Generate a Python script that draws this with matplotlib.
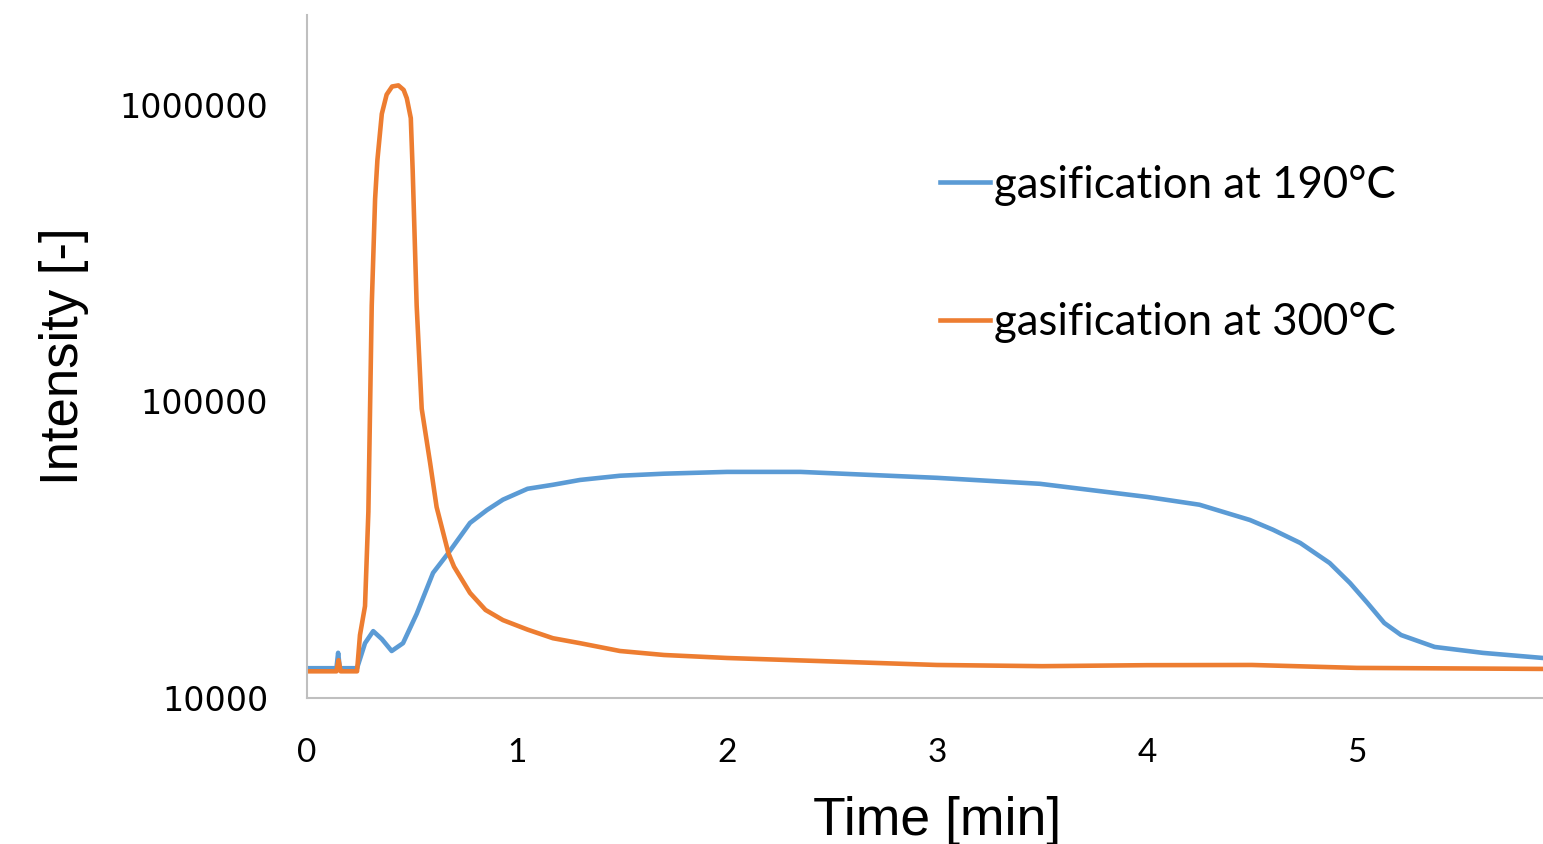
import matplotlib.pyplot as plt
from matplotlib.ticker import FixedLocator, FixedFormatter

# Данные
t_190 = [0, 0.14, 0.148, 0.156, 0.238, 0.276, 0.315, 0.356, 0.403, 0.457, 0.522,
         0.6, 0.673, 0.776, 0.857, 0.933, 1.05, 1.171, 1.3, 1.49, 1.7, 2.0, 2.35, 3.0,
         3.49, 4.0, 4.25, 4.49, 4.6, 4.73, 4.87, 4.967, 5.05, 5.13, 5.21, 5.37, 5.6, 5.886]
i_190 = [12600, 12600, 14200, 12600, 12600, 15300, 16800, 15800, 14400, 15300, 19200,
         26400, 30800, 38900, 43000, 46600, 50700, 52300, 54300, 56100, 57000, 57800, 57800, 55200,
         52700, 47600, 44800, 39800, 36900, 33300, 28500, 24400, 20900, 17900, 16300, 14860, 14190, 13640]

t_300 = [0, 0.14, 0.15, 0.16, 0.238, 0.252, 0.276, 0.292, 0.308, 0.324, 0.335,
         0.356, 0.379, 0.405, 0.435, 0.46, 0.475, 0.494, 0.503, 0.522, 0.546,
         0.586, 0.617, 0.673, 0.7, 0.776, 0.85, 0.933, 1.05, 1.171, 1.3, 1.49, 1.7, 2.0,
         3.0, 3.5, 4.0, 4.5, 5.0, 5.886]
i_300 = [12300, 12300, 13400, 12300, 12300, 16300, 20400, 42400, 210000, 480000, 650000,
         930000, 1080000, 1150000, 1160000, 1120000, 1050000, 900000, 600000, 210000, 94400,
         62000, 44000, 30800, 27700, 22600, 19800, 18300, 17000, 15900, 15300, 14400, 13960, 13640,
         12920, 12800, 12900, 12920, 12630, 12530]

y_ticks = [10000, 100000, 1000000]
x_ticks = [0, 1, 2, 3, 4, 5]

fig = plt.figure(figsize=(15.43, 8.44), dpi=100)
ax = fig.add_axes([0.199, 0.173, 0.801, 0.809])

ax.plot(t_190, i_190, color='#5B9BD5', lw=3.3, label='gasification at 190°C')
ax.plot(t_300, i_300, color='#ED7D31', lw=3.3, label='gasification at 300°C')

ax.set_yscale('log')
ax.set_ylim(10000, 2000000)
ax.set_xlim(0, 5.886)
ax.yaxis.set_major_locator(FixedLocator(y_ticks))
ax.yaxis.set_major_formatter(FixedFormatter([str(v) for v in y_ticks]))
ax.yaxis.set_minor_locator(FixedLocator([]))
ax.set_xticks(x_ticks)
ax.set_xticklabels([str(v) for v in x_ticks], fontfamily='Lato', fontsize=24)
for lab in ax.get_yticklabels():
    lab.set_fontfamily('DejaVu Sans')
    lab.set_fontsize(24)
ax.tick_params(axis='both', length=0)
ax.tick_params(axis='y', pad=28)
ax.tick_params(axis='x', pad=29)

for s in ['top', 'right']:
    ax.spines[s].set_visible(False)
for s in ['left', 'bottom']:
    ax.spines[s].set_color('#BFBFBF')
    ax.spines[s].set_linewidth(1.5)

ax.set_xlabel('Time [min]', fontfamily='Liberation Sans', fontsize=38.5, labelpad=20)
ax.xaxis.label.set_x(0.51)
ax.set_ylabel('Intensity [-]', fontfamily='Liberation Sans', fontsize=38, labelpad=22)

ax.legend(loc='upper left', bbox_to_anchor=(0.48, 0.839), frameon=False,
          prop={'family': 'Lato', 'size': 31.5}, handlelength=1.15,
          handletextpad=0.1, labelspacing=2.2)

fig.savefig('out.png', dpi=100)
